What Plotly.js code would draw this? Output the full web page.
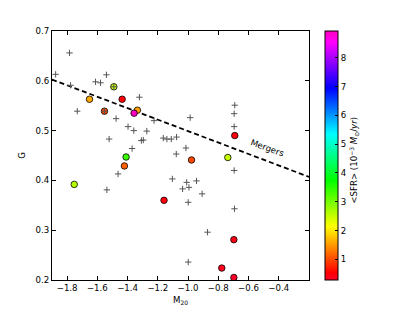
<!DOCTYPE html>
<html>
<head>
<meta charset="utf-8">
<script src="https://cdn.plot.ly/plotly-3.0.1.min.js"></script>
<style>html,body{margin:0;padding:0;background:#fff;}#chart{width:415px;height:312px;}</style>
</head>
<body>
<div id="chart"></div>
<script>
// Full sample (grey crosses)
const sampleM20 = [-1.784,-1.876,-1.777,-1.733,-1.612,-1.579,-1.540,-1.322,-1.476,-1.522,
  -1.397,-1.359,-1.273,-1.225,-1.309,-1.296,-1.370,-1.164,-1.140,-1.111,
  -1.076,-0.986,-1.078,-1.014,-0.691,-0.695,-0.695,-0.695,-1.463,-1.537,
  -1.104,-1.009,-0.994,-1.036,-0.944,-0.907,-0.999,-0.871,-0.999,-0.693,
  -1.491,-1.553];
const sampleG = [0.656,0.613,0.591,0.539,0.598,0.596,0.612,0.567,0.524,0.483,
  0.508,0.500,0.499,0.520,0.480,0.481,0.464,0.485,0.483,0.483,
  0.487,0.526,0.453,0.465,0.551,0.534,0.508,0.420,0.413,0.381,
  0.403,0.396,0.386,0.383,0.399,0.373,0.356,0.296,0.236,0.343,
  0.588,0.539];

// Galaxies with SFR (coloured circles)
const sfrM20 = [-1.491,-1.652,-1.436,-1.553,-1.335,-1.357,-1.410,-1.421,-1.753,-1.159,
  -0.977,-0.691,-0.737,-0.697,-0.777,-0.697];
const sfrG = [0.588,0.563,0.563,0.539,0.541,0.535,0.447,0.429,0.392,0.360,
  0.441,0.490,0.446,0.281,0.224,0.205];
const sfrVal = [2.5,1.6,0.5,1.0,1.55,8.93,3.4,1.15,2.6,0.45,
  1.0,0.45,2.5,0.4,0.35,0.28];

// Merger line (Lotz et al.): G = slope*M20 + intercept
const mergerSlope = -0.115;
const mergerIntercept = 0.384;
const mergerM20 = [-1.9, -0.2];
const mergerG = mergerM20.map(m => mergerSlope*m + mergerIntercept);

const xTicks = [-1.8,-1.6,-1.4,-1.2,-1.0,-0.8,-0.6,-0.4];
const yTicks = [0.2,0.3,0.4,0.5,0.6,0.7];
const cbTicks = [1,2,3,4,5,6,7,8];

const gistRainbow = [
  [0.000,'rgb(255,0,41)'],[0.030,'rgb(255,0,0)'],[0.215,'rgb(255,255,0)'],
  [0.400,'rgb(0,255,0)'],[0.586,'rgb(0,255,255)'],[0.770,'rgb(0,0,255)'],
  [0.954,'rgb(255,0,255)'],[1.000,'rgb(255,0,191)']
];

const FONT = {family:'DejaVu Sans, sans-serif', size:8.6, color:'#000'};

const traces = [
  {x: mergerM20, y: mergerG, mode:'lines', type:'scatter',
   line:{color:'#000', width:1.8, dash:'5px,3px'}, hoverinfo:'skip', showlegend:false},
  {x: sfrM20, y: sfrG, mode:'markers', type:'scatter', showlegend:false,
   marker:{size:6.5, color: sfrVal, colorscale: gistRainbow, cmin:0.28, cmax:8.93,
     line:{color:'#000', width:0.8},
     showscale:true,
     colorbar:{x:1.062, xanchor:'left', xref:'paper', y:0.5, yanchor:'middle',
       len:249, lenmode:'pixels', thickness:13, thicknessmode:'pixels',
       outlinewidth:1, outlinecolor:'#000', tickvals: cbTicks,
       ticks:'inside', ticklen:3, tickcolor:'#000', tickfont: FONT, ypad:0, xpad:0}}},
  {x: sampleM20, y: sampleG, mode:'markers', type:'scatter', showlegend:false,
   marker:{symbol:'cross-thin', size:4.5, line:{color:'#555', width:1}}}
];

const layout = {
  width:415, height:312,
  margin:{l:52, r:106, t:31, b:32},
  paper_bgcolor:'#fff', plot_bgcolor:'#fff',
  font: FONT,
  xaxis:{range:[-1.9,-0.2], tickvals:xTicks, tickformat:'.1f', ticks:'inside', ticklen:4,
    tickcolor:'#000', showline:true, linecolor:'#000', linewidth:1, mirror:'ticks',
    showgrid:false, zeroline:false, tickfont:FONT,
    title:{text:'M<sub>20</sub>', font:FONT, standoff:4}},
  yaxis:{range:[0.2,0.7], tickvals:yTicks, tickformat:'.1f', ticks:'inside', ticklen:4,
    tickcolor:'#000', showline:true, linecolor:'#000', linewidth:1, mirror:'ticks',
    showgrid:false, zeroline:false, tickfont:FONT,
    title:{text:'G', font:FONT, standoff:8}},
  annotations:[
    {x:-0.473, y:0.466, xref:'x', yref:'y', text:'Mergers', showarrow:false,
     textangle:20, font:FONT},
    {x:1.205, y:0.482, xref:'paper', yref:'paper', showarrow:false, textangle:-90,
     text:'&lt;SFR&gt; (10<sup>−3</sup> <i>M</i><sub>⊙</sub>/<i>yr</i>)', font:FONT}
  ]
};

Plotly.newPlot('chart', traces, layout, {staticPlot:true, displayModeBar:false});
</script>
</body>
</html>
